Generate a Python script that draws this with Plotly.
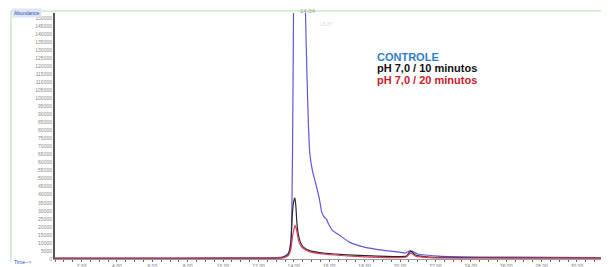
import plotly.graph_objects as go

# Retention time (min) and abundance
t_controle = [0.5, 5.0, 10.0, 13.0, 13.35, 13.6, 13.75, 13.85, 13.92, 13.98, 14.08, 14.3, 14.5, 14.66,
              14.74, 14.82, 14.9, 15.05, 15.26, 15.45, 15.58, 15.72, 15.84, 15.95, 16.18, 16.58,
              17.14, 17.99, 19.0, 19.96, 20.3, 20.6, 21.0, 22.2, 24.5, 31.7]
y_controle = [600, 600, 650, 800, 1200, 2500, 5000, 14000, 60000, 150000, 400000, 600000, 300000, 152500,
              115000, 85000, 66000, 55000, 46000, 37000, 29000, 26000, 24800, 22100, 17800, 14800,
              10500, 7400, 5500, 4300, 3700, 5200, 3100, 1800, 1200, 900]

t_10min = [0.5, 5.0, 10.0, 13.0, 13.35, 13.69, 13.83, 13.92, 14.0, 14.06, 14.12, 14.17, 14.26, 14.37,
           14.54, 14.88, 15.45, 16.3, 17.7, 19.96, 20.36, 20.6, 20.87, 21.66, 25.6, 31.7]
y_10min = [300, 300, 350, 450, 900, 3000, 10500, 28900, 36300, 38100, 32000, 22800, 14800, 10500,
           7400, 5200, 4000, 3100, 2200, 1500, 1800, 4900, 2500, 1200, 900, 600]

t_20min = [0.5, 5.0, 10.0, 13.0, 13.35, 13.69, 13.83, 13.92, 14.0, 14.08, 14.17, 14.26, 14.37, 14.54,
           14.88, 15.45, 16.3, 17.7, 19.96, 20.36, 20.6, 20.87, 21.66, 31.7]
y_20min = [500, 500, 500, 550, 600, 2200, 6200, 13500, 18500, 20900, 17200, 11700, 8600, 6500,
           4600, 3400, 2500, 1500, 900, 1200, 3700, 1800, 900, 600]

series_names = ["CONTROLE", "pH 7,0 / 10 minutos", "pH 7,0 / 20 minutos"]
line_colors = ["#5a5ad8", "#2a2a2a", "#d8405a"]
label_colors = ["#2f7ec4", "#111111", "#c8202a"]

x_ticks = [2, 4, 6, 8, 10, 12, 14, 16, 18, 20, 22, 24, 26, 28, 30]
x_tick_text = ["%.2f" % v for v in x_ticks]
y_ticks = list(range(0, 150001, 5000))
y_tick_text = [str(v) for v in y_ticks]

fig = go.Figure()
for tx, ty, name, col in zip([t_controle, t_10min, t_20min], [y_controle, y_10min, y_20min],
                             series_names, line_colors):
    fig.add_trace(go.Scatter(x=tx, y=ty, mode="lines", name=name,
                             line=dict(color=col, width=1.2, shape="spline", smoothing=0.5),
                             showlegend=False))

# the page body has an 8px default margin, so the figure starts at page pixel (8, 8)
OFF = 8
PAGE_W, PAGE_H = 609, 267
W, H = PAGE_W - OFF, PAGE_H - OFF
plot_left, plot_right, plot_top, plot_bottom = 55, 607, 13, 259  # page pixels
ml, mr = plot_left - OFF, PAGE_W - plot_right
mt, mb = plot_top - OFF, PAGE_H - plot_bottom
pw, ph = W - ml - mr, H - mt - mb


def px(xp):
    return (xp - plot_left) / pw


def py(yp):
    return (plot_bottom - yp) / ph


fig.update_layout(
    width=W, height=H,
    margin=dict(l=ml, r=mr, t=mt, b=mb, autoexpand=False),
    paper_bgcolor="white", plot_bgcolor="white",
    font=dict(family="Liberation Sans, Arial, sans-serif"),
    xaxis=dict(range=[0.5, 31.7], tickvals=x_ticks, ticktext=x_tick_text, automargin=False,
               tickfont=dict(size=5, color="#777"), ticks="outside", ticklen=1.5,
               tickcolor="#666", showgrid=False, zeroline=False,
               showline=True, linecolor="#999", linewidth=1,
               minor=dict(dtick=0.5, ticks="outside", ticklen=1.5, tickcolor="#666")),
    yaxis=dict(range=[0, 150000 * (ph / (ph - 5))], tickvals=y_ticks, ticktext=y_tick_text,
               automargin=False,
               tickfont=dict(size=5, color="#888"), ticks="", showgrid=False,
               zeroline=False, showline=True, linecolor="#555", linewidth=2),
)

# window frame lines (green) as in the original software screenshot
fig.add_shape(type="line", xref="paper", yref="paper", x0=px(11), x1=px(609), y0=py(11), y1=py(11),
              line=dict(color="#a8e2a8", width=1))
fig.add_shape(type="line", xref="paper", yref="paper", x0=px(11), x1=px(11), y0=py(11), y1=py(262),
              line=dict(color="#a8e2a8", width=1))

fig.add_annotation(xref="paper", yref="paper", x=px(12), y=py(13), text="Abundance",
                   showarrow=False, xanchor="left", yanchor="middle",
                   font=dict(size=5, color="#3050c0"), bgcolor="#dde4f4")
fig.add_annotation(xref="paper", yref="paper", x=px(12), y=py(262), text="Time-->",
                   showarrow=False, xanchor="left", yanchor="middle",
                   font=dict(size=5, color="#3050c0"))
fig.add_annotation(xref="paper", yref="paper", x=px(298), y=py(11), text="14.04",
                   showarrow=False, xanchor="left", yanchor="middle",
                   font=dict(size=6, color="#999"))
fig.add_annotation(xref="paper", yref="paper", x=px(318), y=py(24), text="15.87",
                   showarrow=False, xanchor="left", yanchor="middle",
                   font=dict(size=5, color="#ddd"))

for i, (name, col) in enumerate(zip(series_names, label_colors)):
    fig.add_annotation(xref="paper", yref="paper", x=px(375), y=py(57 + 11.5 * i), text="<b>%s</b>" % name,
                       showarrow=False, xanchor="left", yanchor="middle",
                       font=dict(size=11, color=col))

fig.write_html("out.html")
